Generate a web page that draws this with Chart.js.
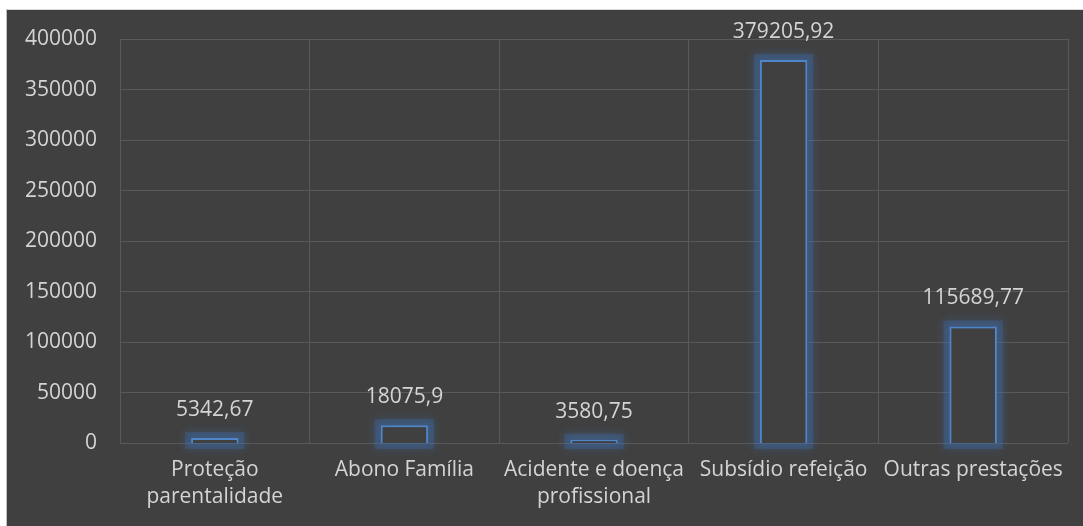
<!DOCTYPE html>
<html>
<head>
<meta charset="utf-8">
<script src="https://cdn.jsdelivr.net/npm/chart.js@4.4.0/dist/chart.umd.min.js"></script>
<style>
  html, body { margin: 0; padding: 0; background: #ffffff; }
  #frame {
    position: absolute; left: 6px; top: 9px; width: 1077px; height: 517px;
    background: #404040; border-left: 1px solid #bfbfbf; border-top: 1px solid #d9d9d9;
  }
  #chart { display: block; }
</style>
</head>
<body>
<div id="frame"><canvas id="chart" width="1077" height="517"></canvas></div>
<script>
// Chart data
const categories = [
  ["Proteção", "parentalidade"],
  "Abono Família",
  ["Acidente e doença", "profissional"],
  "Subsídio refeição",
  "Outras prestações",
];
const values = [5342.67, 18075.9, 3580.75, 379205.92, 115689.77];
const valueLabels = ["5342,67", "18075,9", "3580,75", "379205,92", "115689,77"];
const yTicks = [0, 50000, 100000, 150000, 200000, 250000, 300000, 350000, 400000];

const textColor = "#d4d4d4";
const gridColor = "#595959";
const barColor = "#4f86c9";
const fontFamily = "'Open Sans', 'Noto Sans', sans-serif";

Chart.defaults.font.family = fontFamily;
Chart.defaults.font.size = 21;
Chart.defaults.color = textColor;

// Soft blue glow around each bar outline
const glowPlugin = {
  id: "glow",
  beforeDatasetDraw(chart) {
    const ctx = chart.ctx;
    const meta = chart.getDatasetMeta(0);
    ctx.save();
    meta.data.forEach((bar) => {
      const left = bar.x - bar.width / 2;
      const h = bar.base - bar.y;
      ctx.shadowColor = "rgba(70, 135, 225, 0.8)";
      ctx.shadowBlur = 10;
      ctx.strokeStyle = "rgba(60, 110, 180, 0.3)";
      ctx.lineWidth = 12;
      ctx.strokeRect(left, bar.y, bar.width, h);
    });
    ctx.restore();
  },
};

// Value labels above the bars
const valueLabelPlugin = {
  id: "valueLabels",
  afterDatasetsDraw(chart) {
    const ctx = chart.ctx;
    const meta = chart.getDatasetMeta(0);
    ctx.save();
    ctx.fillStyle = textColor;
    ctx.font = "21px " + fontFamily;
    ctx.textAlign = "center";
    ctx.textBaseline = "middle";
    meta.data.forEach((bar, i) => {
      ctx.fillText(valueLabels[i], bar.x, bar.y - 28);
    });
    ctx.restore();
  },
};

new Chart(document.getElementById("chart"), {
  type: "bar",
  data: {
    labels: categories,
    datasets: [
      {
        data: values,
        backgroundColor: "rgba(64, 64, 64, 1)",
        borderColor: barColor,
        borderWidth: 2,
        barPercentage: 0.25,
        categoryPercentage: 1,
      },
    ],
  },
  options: {
    responsive: false,
    animation: false,
    layout: { padding: { top: 29, right: 16, left: 18, bottom: 3 } },
    plugins: {
      legend: { display: false },
      tooltip: { enabled: false },
    },
    scales: {
      x: {
        offset: true,
        grid: { offset: true, color: gridColor, drawTicks: false },
        border: { display: false },
        ticks: {
          padding: 13,
          color: textColor,
          maxRotation: 0,
          autoSkip: false,
          font: { size: 21, lineHeight: 1.3 },
        },
      },
      y: {
        min: 0,
        max: 400000,
        afterBuildTicks: (axis) => { axis.ticks = yTicks.map((v) => ({ value: v })); },
        afterFit: (axis) => {
          axis.width = 95;
          axis.paddingTop = 0;
          axis.paddingBottom = 0;
        },
        grid: { color: gridColor, drawTicks: false },
        border: { display: false },
        ticks: {
          padding: 23,
          color: textColor,
          callback: (v) => String(v),
        },
      },
    },
  },
  plugins: [glowPlugin, valueLabelPlugin],
});
</script>
</body>
</html>
